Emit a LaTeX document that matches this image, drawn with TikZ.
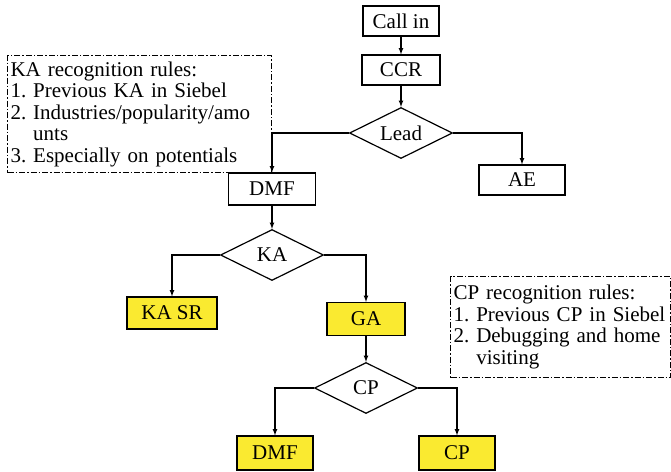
\documentclass[tikz,border=0pt]{standalone}
\usepackage{fontspec}
\setmainfont{Liberation Serif}
\usetikzlibrary{positioning,shapes.geometric}
\definecolor{hlyellow}{RGB}{250,234,48}
\tikzset{
  stepbox/.style={draw, rectangle, line width=1.2pt, minimum width=78pt, minimum height=32pt, inner sep=2pt},
  hlbox/.style={stepbox, fill=hlyellow},
  choice/.style={draw, diamond, aspect=2, line width=1.2pt, minimum width=103pt, minimum height=51pt, inner sep=0pt},
  rulebox/.style={draw, dash pattern=on 6pt off 2pt on 1.5pt off 2pt, line width=1pt, align=left, anchor=north west, inner xsep=3pt, inner ysep=1pt}
}
\frenchspacing
\begin{document}
\begin{tikzpicture}[x=1pt, y=-1pt, on grid, font=\fontsize{21}{21.5}\selectfont]
            \useasboundingbox (0,0) rectangle (671,471);
            \node[stepbox, minimum width=76pt, minimum height=30pt] (callin) at (401,21) {Call in};
            \node[stepbox, minimum height=30pt, below=49pt of callin] (ccr) {CCR};
            \node[choice, below=63pt of ccr] (lead) {Lead};
            \node[stepbox, minimum width=87pt, below left=56pt and 129pt of lead] (dmf) {DMF};
            \node[stepbox, minimum width=86pt, minimum height=30pt, below right=47pt and 121pt of lead] (ae) {AE};
            \node[choice, below=66pt of dmf] (ka) {KA};
            \node[hlbox, minimum width=90pt, below left=58pt and 100pt of ka] (kasr) {KA SR};
            \node[hlbox, minimum height=33pt, below right=64pt and 94pt of ka] (ga) {GA};
            \node[choice, below=69pt of ga] (cp) {CP};
            \node[hlbox, minimum width=76pt, minimum height=34pt, below left=65pt and 91pt of cp] (dmfb) {DMF};
            \node[hlbox, minimum width=76pt, minimum height=34pt, below right=65pt and 91pt of cp] (cpb) {CP};

            % recognition rules
            \node[rulebox, minimum width=264pt, minimum height=117pt, text width=258pt] (karules) at (7,55)
              {KA recognition rules:\\1. Previous KA in Siebel\\2. Industries/popularity/amo\\\phantom{2. }unts\\3. Especially on potentials};
            \node[rulebox, minimum width=220pt, minimum height=101pt, text width=214pt] (cprules) at (450,276)
              {CP recognition rules:\\1. Previous CP in Siebel\\2. Debugging and home\\\phantom{2. }visiting};

            \path[-latex, line width=1.2pt] (callin) edge (ccr);
            \path[-latex, line width=1.2pt] (ccr) edge (lead);
            \draw[-latex, line width=1.2pt] (lead.west) -| (dmf);
            \draw[-latex, line width=1.2pt] (lead.east) -| (ae);
            \path[-latex, line width=1.2pt] (dmf) edge (ka);
            \draw[-latex, line width=1.2pt] (ka.west) -| (kasr);
            \draw[-latex, line width=1.2pt] (ka.east) -| (ga);
            \path[-latex, line width=1.2pt] (ga) edge (cp);
            \draw[-latex, line width=1.2pt] (cp.west) -| (dmfb);
            \draw[-latex, line width=1.2pt] (cp.east) -| (cpb);
        \end{tikzpicture}
\end{document}
